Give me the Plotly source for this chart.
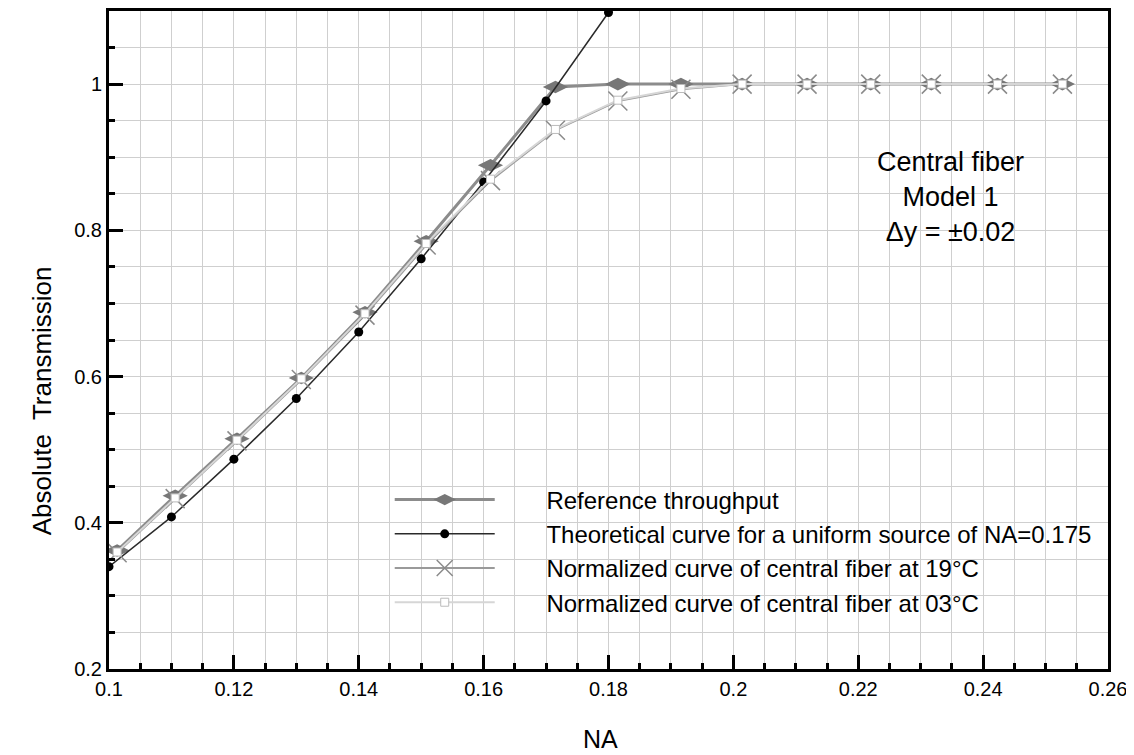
import plotly.graph_objects as go

# --- data ---
na_meas = [0.1013, 0.1106, 0.1205, 0.1308, 0.1410, 0.1508, 0.1611, 0.1715,
           0.1815, 0.1916, 0.2014, 0.2118, 0.2220, 0.2317, 0.2423, 0.2527]
ref_throughput = [0.362, 0.437, 0.515, 0.598, 0.688, 0.785, 0.889, 0.996,
                  1.0, 1.0, 1.0, 1.0, 1.0, 1.0, 1.0, 1.0]
na_theory = [0.10, 0.11, 0.12, 0.13, 0.14, 0.15, 0.16, 0.17, 0.18]
theory = [0.340, 0.408, 0.487, 0.570, 0.661, 0.761, 0.866, 0.977, 1.098]
norm_19 = [0.359, 0.433, 0.512, 0.596, 0.684, 0.780, 0.868, 0.937,
           0.977, 0.993, 1.0, 1.0, 1.0, 1.0, 1.0, 1.0]
norm_03 = [0.360, 0.434, 0.513, 0.597, 0.686, 0.782, 0.870, 0.938,
           0.978, 0.994, 1.0, 1.0, 1.0, 1.0, 1.0, 1.0]

names = ["Reference throughput",
         "Theoretical curve for a uniform source of NA=0.175",
         "Normalized curve of central fiber at 19°C",
         "Normalized curve of central fiber at 03°C"]

FONT = "Liberation Sans, Arial, Helvetica, sans-serif"
PAD = "\u00a0" * 7

fig = go.Figure()
fig.add_trace(go.Scatter(
    x=na_meas, y=ref_throughput, name=PAD + names[0], legendgroup="a",
    mode="lines+markers", line=dict(color="#8c8c8c", width=3),
    marker=dict(symbol="diamond-wide", size=18, color="#777777")))
fig.add_trace(go.Scatter(
    x=na_theory, y=theory, name=PAD + names[1], legendgroup="b",
    mode="lines+markers", line=dict(color="#2a2a2a", width=1.5),
    marker=dict(symbol="circle", size=9, color="#000000")))
fig.add_trace(go.Scatter(
    x=na_meas, y=norm_19, name=PAD + names[2], legendgroup="c",
    mode="lines+markers", line=dict(color="#9a9a9a", width=2),
    marker=dict(symbol="x-thin-open", size=19, color="#8a8a8a",
                line=dict(color="#8a8a8a", width=1.5))))
fig.add_trace(go.Scatter(
    x=na_meas, y=norm_03, name=PAD + names[3], legendgroup="d",
    mode="lines+markers", line=dict(color="#d6d6d6", width=2),
    marker=dict(symbol="square", size=8, color="white",
                line=dict(color="#bbbbbb", width=1))))

axis_common = dict(
    showline=True, linecolor="black", linewidth=3, mirror=True,
    ticks="inside", ticklen=14, tickwidth=2.5, tickcolor="black",
    showgrid=True, gridcolor="#cfcfcf", gridwidth=1, zeroline=False,
    tickfont=dict(family=FONT, size=20, color="black"),
)

fig.update_xaxes(range=[0.1, 0.26], dtick=0.02, tick0=0.1,
                 minor=dict(dtick=0.005, ticks="inside", ticklen=6,
                            tickcolor="black", showgrid=True,
                            gridcolor="#cfcfcf"),
                 **axis_common)
fig.update_yaxes(range=[0.2, 1.1], dtick=0.2, tick0=0.2,
                 minor=dict(dtick=0.05, ticks="inside", ticklen=6,
                            tickcolor="black", showgrid=True,
                            gridcolor="#cfcfcf"),
                 **axis_common)

fig.update_layout(
    width=1126, height=747,
    margin=dict(l=101, r=26, t=0, b=86),
    plot_bgcolor="white", paper_bgcolor="white",
    font=dict(family=FONT, color="black"),
    showlegend=True,
    legend=dict(x=0.281, y=0.291, xanchor="left", yanchor="top",
                bgcolor="rgba(255,255,255,0)",
                font=dict(family=FONT, size=24, color="black"),
                traceorder="grouped", tracegroupgap=0, itemwidth=100),
    annotations=[
        dict(text="Central fiber<br>Model 1<br>Δy = ±0.02",
             xref="x", yref="y", x=0.2348, y=0.845, showarrow=False,
             font=dict(family=FONT, size=27, color="black"), align="center"),
        dict(text="NA", xref="x", yref="paper", x=0.1787, y=-0.106,
             yanchor="middle", showarrow=False,
             font=dict(family=FONT, size=25, color="black")),
        dict(text="Absolute  Transmission", xref="paper", yref="paper",
             x=-0.084, y=0.407, textangle=-90, showarrow=False,
             font=dict(family=FONT, size=26, color="black")),
    ],
)

fig.write_html("out.html")
